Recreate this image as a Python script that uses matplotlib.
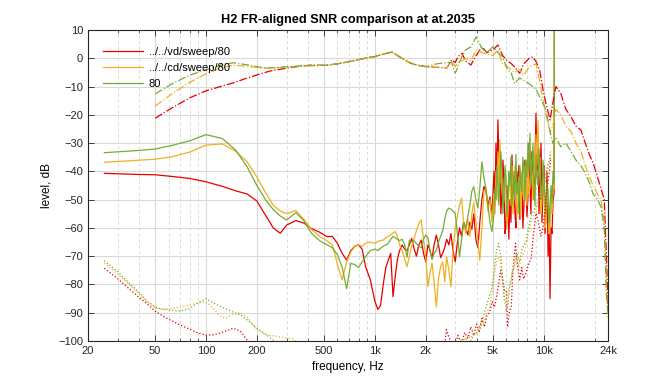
import numpy as np
import matplotlib
matplotlib.use('Agg')
import matplotlib.pyplot as plt
from matplotlib.ticker import FixedLocator, FixedFormatter, LogLocator, NullFormatter

plt.rcParams['font.family'] = ['Liberation Sans', 'DejaVu Sans']

labels = ['../../vd/sweep/80', '../../cd/sweep/80', '80']
colors = ['#e60000', '#edb120', '#77ac30']

# H2 level (solid lines), shared frequency grid
freq_h = [25, 32, 40, 50, 63, 80, 100, 125, 150, 175, 200, 225, 250, 275, 300, 340, 380, 420, 470, 520,
          560, 600, 640, 680, 720, 760, 800, 840, 880, 940, 1000, 1040, 1080, 1120, 1160, 1200, 1240, 1280,
          1320, 1360, 1400, 1450, 1500, 1550, 1600, 1650, 1700, 1760, 1820, 1880, 1940, 2000, 2060, 2120,
          2180, 2240, 2310, 2380, 2450,
          2520, 2590, 2660, 2740, 2820, 2900, 2990, 3080, 3170, 3260, 3350, 3450, 3550, 3650, 3750, 3850,
          3960, 4070, 4180, 4300, 4420, 4540, 4670, 4800, 4930,
          5070, 5140, 5210, 5280, 5350, 5420, 5500, 5570, 5650, 5730, 5810, 5890, 5970, 6050, 6130, 6210,
          6300, 6390, 6480, 6570, 6660, 6750, 6840, 6930, 7030, 7120, 7220, 7320, 7420, 7520, 7630, 7730,
          7840, 7950, 8060, 8170, 8280, 8390, 8510, 8630, 8750, 8870, 8990, 9110, 9240, 9370, 9500, 9630,
          9760, 9890, 10030, 10170, 10310, 10450, 10600, 10740, 10890, 11040, 11190, 11340, 11500, 11600]

h2_vd = [-40.7, -40.9, -41.1, -41.2, -41.8, -42.5, -43.7, -45.3, -46.9, -48.0, -50.5, -55.5, -60.0, -61.9,
         -59.0, -57.4, -58.3, -60.2, -61.5, -63.1,
         -63, -65.5, -69, -71.4, -68, -66.5, -66, -67.5, -73.7, -78.4, -86, -88.8, -87.5, -80, -74,
         -71.4, -69, -84.3, -77, -71, -68, -66, -67.5, -68, -66, -63.7, -67, -70, -66, -64.3, -69, -72,
         -66, -68, -71, -66, -62.5, -66, -70.5,
         -69, -67, -64, -66, -62, -68, -72, -65, -60, -63, -57.8, -60, -62.5, -58, -60.5, -55, -64, -67,
         -58, -50, -45.4, -47, -52, -49, -56,
         -40, -52, -30, -45, -21.8, -35, -38, -55, -48, -36, -44, -62, -59.6, -45, -52, -64,
         -50, -58, -34.2, -50, -44, -55, -60, -40, -47, -38, -57, -48, -41, -60, -52, -36,
         -44, -56, -49, -30, -45.4, -55, -33, -42, -50, -36, -19.5, -40, -31, -55, -43, -30,
         -58, -45, -38, -62, -52.5, -40, -70, -55, -85, -60, -62, -50, -48, 60]
h2_cd = [-36.8, -36.4, -36.0, -35.7, -34.8, -33.2, -30.7, -30.3, -32.9, -36.6, -42.0, -47.5, -52.0, -54.0,
         -55.0, -53.8, -57.0, -60.5, -63.0, -64.5,
         -66, -73, -78.4, -72, -68.5, -66.6, -66, -66.5, -65.5, -65, -65.5, -64.8, -64.5, -64.3, -63.5,
         -63, -62.5, -61.8, -61.3, -63, -66, -68, -71, -73.7, -70, -66.6, -64, -61, -58.5, -57.2, -64,
         -70.2, -80.8, -76, -72.5, -79, -87.9, -78, -73.7,
         -72, -79, -70.2, -75, -80.8, -68, -60, -56, -52, -49.5, -58, -62, -57, -63, -55, -51, -58, -65,
         -71.4, -60, -47, -46, -54, -50, -58,
         -48, -55, -40, -50, -33, -45, -28.9, -44, -42, -52, -50, -40, -46, -60, -55, -45,
         -44, -52, -38, -55, -48, -38, -42, -56, -52, -42, -45, -56, -40, -48, -50, -38,
         -43, -52, -37, -48, -46, -36, -40, -50, -33, -42, -27, -38, -22, -40, -35, -55,
         -50, -40, -45, -60, -58, -48, -50, -62, -60, -50, -55, -45, -46, 60]
h2_80 = [-33.4, -33.0, -32.6, -32.1, -30.8, -29.2, -27.0, -28.4, -32.5, -38.4, -45.0, -50.0, -53.5, -55.8,
         -57.2, -54.6, -57.5, -61.8, -64.5, -66.0,
         -67, -69.5, -74, -81.5, -72.5, -73, -74, -72, -70.2, -68, -67.5, -68, -67.2, -66.5, -66, -65.5,
         -64, -63, -63.5, -64, -64.5, -64, -66, -70.4, -64.3, -65, -64.5, -65.5, -66.5, -67, -64, -62.5,
         -63.5, -68, -71, -69, -68, -65, -63,
         -61, -57, -54, -53, -53.4, -54, -55, -62, -70.2, -64, -58.4, -60, -56, -52, -47, -45.4, -50, -53,
         -46, -36.6, -42, -46, -52, -58, -61.3,
         -55, -46, -50, -38, -44, -52, -43, -33, -40, -55, -48, -38, -42, -56, -50, -40,
         -45, -35, -52, -46, -40, -50, -34, -48, -44, -55, -38, -45, -47, -35, -41, -50,
         -36, -42, -30, -40, -26.5, -45, -38, -30, -44, -52, -34, -42, -45, -32, -39, -50,
         -48, -36, -42, -50, -55, -44, -47, -58, -52, -45, -51.3, -40, -44, 60]

# fundamental (dash-dot)
freq_f = [50, 63, 80, 100, 125, 145, 175, 210, 240, 300, 360, 420, 500, 600, 700, 800, 900, 1000, 1130,
          1260, 1400, 1620, 1800, 2030, 2300, 2670, 2850, 2990, 3100, 3270, 3450, 3700, 3980, 4300, 4600,
          5000, 5350, 5700, 6100, 6400, 6700, 7200, 7600, 8200, 8600, 9000, 9440, 9900, 10300, 10900,
          11300, 11800, 12600, 13500, 14500, 15500, 16600, 17600, 18600, 19600, 20800, 21800, 22800,
          23500, 24000]
fr_vd = [-21.2, -17.5, -14, -11.5, -9.8, -8.7, -7, -5.5, -4.5, -3.5, -2.8, -2.4, -2.5, -2, -1.2, -0.5,
         0.2, 0.6, 1.5, 2.2, 0.5, -1.7, -2.5, -3, -3.2, -3.4, -0.6, -1.5, 0.5, 1.8, -1, -2.4, 1, 4.1, 2,
         3, 4.7, 1, -1, -1.8, -3, -5.3, -2, 0, 0.5, -1.2, -4, -11.2, -16, -21.8, -16, -10, -12.4, -18,
         -20.7, -24, -25.4, -30, -34, -37, -42, -46, -50, -70, -88]
fr_cd = [-16.9, -12.5, -8.5, -5.5, -3.2, -2.5, -2.8, -3.4, -3.5, -3.2, -2.8, -2.6, -2.5, -2, -1.2, -0.5,
         0.2, 0.6, 1.5, 2.2, 0.5, -1.7, -2.5, -3, -3.2, -3.4, -1, -3, -1.5, -1, 0, -1, 3, 2, 1.5, 1, 3,
         -2, -3, -4, -5, -4, -6, -3, -2.5, -2, -8, -15, -20, -26, -24, -18, -20, -24, -26, -30, -33, -38,
         -42, -45, -48, -50, -58, -80, -92]
fr_80 = [-12.6, -9, -6, -4, -2.3, -1.6, -2.3, -3.2, -3.4, -3, -2.7, -2.6, -2.5, -2, -1.2, -0.5, 0.2, 0.6,
         1.5, 2.2, 0.5, -1.7, -2.5, -3, -2, -1.5, -1.5, -5.3, -3, 0.6, 3, 4, 7.6, 3.5, 2, 4.1, 2, 0.6,
         -4.2, -5, -8.9, -7, -7.7, -9, -10, -11, -13.6, -16, -18.3, -26, -30, -28, -31.3, -30, -33, -36,
         -38, -40.6, -44, -48, -50, -52.5, -60, -84, -90]

# noise floor (dotted)
freq_n = [25, 30, 35, 40, 45, 50, 55, 60, 70, 80, 90, 100, 110, 120, 130, 145, 160, 175, 200, 230, 260,
          300, 330, 360,
          2500, 2650, 2800, 2950, 3100, 3250, 3400, 3550, 3700, 3850, 4000, 4150, 4300, 4450, 4600, 4770,
          4950, 5100, 5250, 5400, 5560, 5700, 5850, 6000, 6100, 6250, 6420, 6540, 6680, 6800, 6950, 7100,
          7200, 7400, 7600, 7850, 8100, 8400, 8700, 9000, 9300, 9600, 9900, 10200, 10500, 10800, 11000]
nf_vd = [-74.3, -78, -81.5, -84.5, -87, -89.5, -91, -92.3, -94.3, -95.8, -97.2, -97.9, -97.8, -97.3,
         -96.5, -95.5, -96.5, -99.7, -103, -106, -108, -110, -110, -110,
         -110, -96, -100, -103, -98, -101, -97, -99, -95, -98, -94, -97, -92, -95, -91, -90, -86, -88,
         -84.3, -80, -75, -78, -82, -82, -95, -90, -87.6, -77, -70, -65.5, -72, -76, -78.4, -74, -78,
         -76, -73, -71, -62, -54.8, -58, -63, -60, -52, -45, -40, -35]
nf_cd = [-72.5, -76.3, -80, -83.3, -86.3, -88.2, -88.8, -88.6, -88, -87.3, -86.5, -86.2, -88.5, -91, -92,
         -90.5, -90, -91.5, -96, -97.9, -98.3, -99, -99.3, -102,
         -110, -104, -102, -100, -103, -99, -101, -98, -99, -97, -98, -96, -94, -93, -90, -88, -83, -77,
         -72, -70, -72, -80, -86, -86, -84, -80, -78, -74, -72, -70, -72, -74, -73, -70, -69, -66, -62,
         -58, -56, -53, -51, -48, -46, -44, -40, -37, -34]
nf_80 = [-71.6, -75.5, -79.5, -82.8, -86, -88, -88.8, -89, -89.4, -88.5, -86.5, -85, -86.5, -87.6, -88.5,
         -89.8, -90.8, -92.5, -95.5, -98, -100.5, -103, -105, -108,
         -110, -106, -104, -102, -101, -100, -99, -101, -100, -98, -97, -95, -93, -90, -87, -84, -80.8,
         -74, -68, -65.5, -70, -78, -85, -89, -88, -82, -78, -75, -74, -71.4, -69, -71, -72, -68, -66,
         -65, -60, -56, -54, -52, -50, -45, -48, -42, -38, -36, -33]

xticks = [20, 50, 100, 200, 500, 1000, 2000, 5000, 10000, 24000]
xticklabels = ['20', '50', '100', '200', '500', '1k', '2k', '5k', '10k', '24k']

fig = plt.figure(figsize=(6.72, 3.84), dpi=100)
ax = fig.add_axes([88/672, 43/384, 520/672, 311/384])
fs = 8

h2 = [h2_vd, h2_cd, h2_80]
fr = [fr_vd, fr_cd, fr_80]
nf = [nf_vd, nf_cd, nf_80]
lw = 0.9
handles = []
for i in range(3):
    l, = ax.plot(freq_h, h2[i], '-', color=colors[i], lw=lw, label=labels[i])
    handles.append(l)
for i in range(3):
    ax.plot(freq_f, fr[i], '-.', color=colors[i], lw=lw)
for i in range(3):
    ax.plot(freq_n, nf[i], ':', color=colors[i], lw=lw)

ax.set_xscale('log')
ax.set_xlim(20, 24000)
ax.set_ylim(-100, 10)
ax.xaxis.set_major_locator(FixedLocator(xticks))
ax.xaxis.set_major_formatter(FixedFormatter(xticklabels))
ax.xaxis.set_minor_locator(LogLocator(base=10, subs=np.arange(2, 10)))
ax.xaxis.set_minor_formatter(NullFormatter())
ax.set_yticks(np.arange(-100, 11, 10))

ax.grid(True, which='major', color='#d9d9d9', lw=0.8, ls='-')
ax.grid(True, which='minor', axis='x', color='#d9d9d9', lw=0.7, ls=(0, (3, 3)))
ax.set_axisbelow(True)
ax.tick_params(which='both', direction='in', top=True, right=True, labelsize=fs, colors='#262626',
               labelcolor='#262626')
ax.tick_params(which='major', length=4, width=0.6)
ax.tick_params(which='minor', length=2, width=0.5)
for s in ax.spines.values():
    s.set_color('#262626')
    s.set_linewidth(0.8)

ax.set_title('H2 FR-aligned SNR comparison at at.2035', fontsize=9.2, fontweight='bold', pad=5)
ax.set_xlabel('frequency, Hz', fontsize=fs + 0.5)
ax.set_ylabel('level, dB', fontsize=fs + 0.5)

ax.legend(handles=handles, loc='upper left', frameon=False, fontsize=fs, handlelength=3.6,
          handletextpad=0.5, labelspacing=0.55, borderpad=0, borderaxespad=0,
          bbox_to_anchor=(0.029, 0.945))

fig.savefig('out.png', dpi=100)
